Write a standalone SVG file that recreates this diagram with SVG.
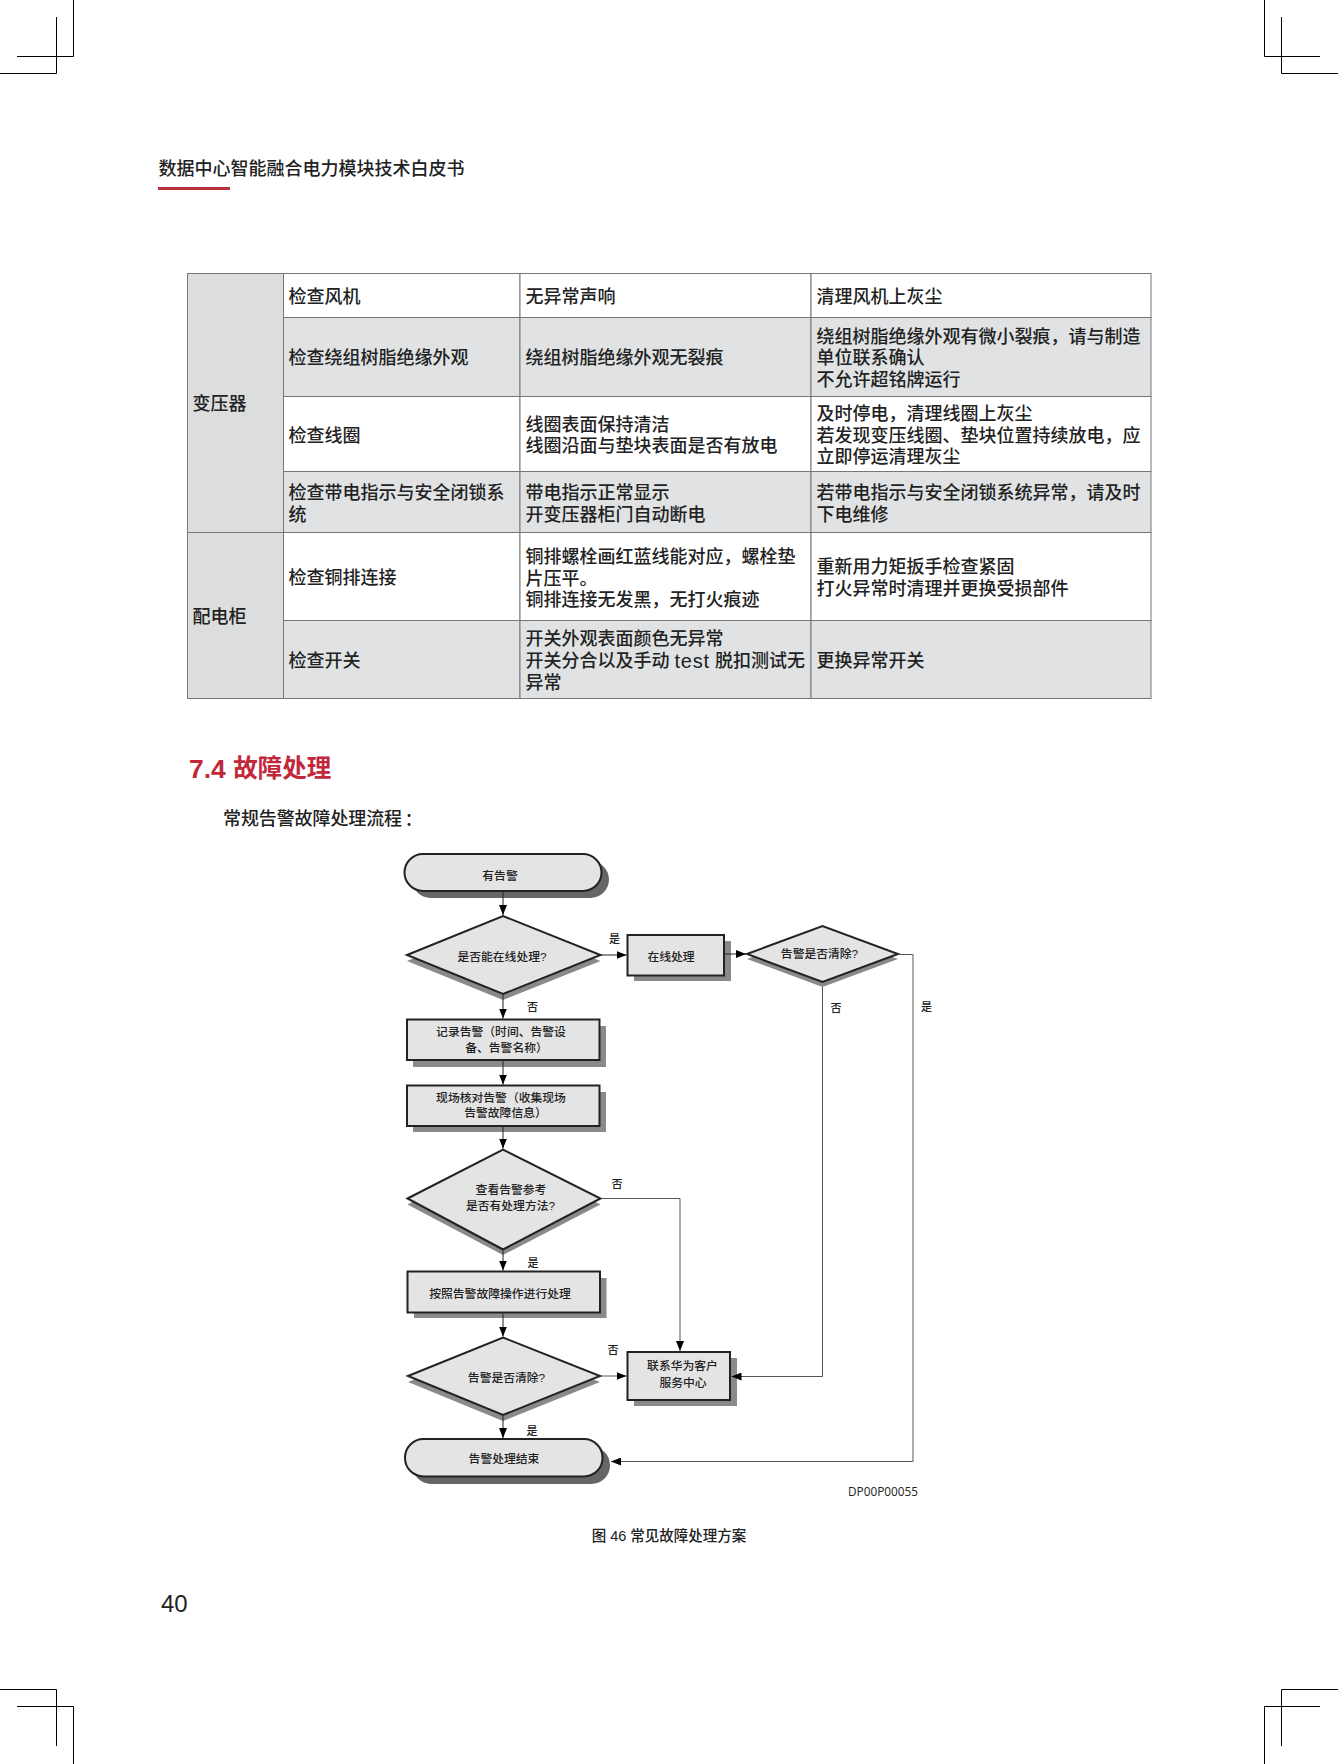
<svg xmlns="http://www.w3.org/2000/svg" width="1338" height="1764" viewBox="0 0 1338 1764">
<style>
text{font-family:"Liberation Sans","Noto Sans CJK SC",sans-serif;dominant-baseline:central;fill:#222;font-weight:500}
.t{font-size:18px;transform:translateY(1px)}
.n{font-size:11.800px;text-anchor:middle}
.l{font-size:11px;text-anchor:middle}
.crop{fill:none;stroke:#000;stroke-width:1}
.cell{stroke:#777;stroke-width:1}
.g{fill:#e0e2e4}.w{fill:#fff}.h{fill:#dcdddd}
.box{fill:#e4e4e4;stroke:#222;stroke-width:2}
.sh{fill:#8a8a8a;stroke:none}
.sh2{fill:#666;stroke:none}
.c{fill:none;stroke:#222;stroke-width:1;marker-end:url(#a)}
.c2{fill:none;stroke:#555;stroke-width:1;marker-end:url(#a)}
</style>
<defs><marker id="a" markerUnits="userSpaceOnUse" markerWidth="11" markerHeight="8" refX="10" refY="4" orient="auto"><path d="M0 0L10 4L0 8z" fill="#000"/></marker></defs>
<rect width="1338" height="1764" fill="#fff"/>
<path class="crop" d="M73.5 0V56.500H17M56.500 17V73.500H0M1264.500 0V56.500H1320M1281.500 17V73.500H1338M0 1689.500H56.500V1746M17 1706.500H73.500V1764M1338 1689.500H1281.500V1746M1320 1706.500H1264.500V1764"/>
<text x="158.500" y="168.500" style="font-size:18px;font-weight:500">数据中心智能融合电力模块技术白皮书</text>
<rect x="158" y="187" width="72" height="3" fill="#b8303a"/>
<g id="table">
<rect class="cell h" x="187.500" y="273.500" width="96" height="259"/>
<rect class="cell h" x="187.500" y="532.500" width="96" height="166"/>
<g>
<rect class="cell w" x="283.500" y="273.500" width="236.500" height="44"/><rect class="cell w" x="520" y="273.500" width="291" height="44"/><rect class="cell w" x="811" y="273.500" width="340" height="44"/>
<rect class="cell g" x="283.500" y="317.500" width="236.500" height="79"/><rect class="cell g" x="520" y="317.500" width="291" height="79"/><rect class="cell g" x="811" y="317.500" width="340" height="79"/>
<rect class="cell w" x="283.500" y="396.500" width="236.500" height="75"/><rect class="cell w" x="520" y="396.500" width="291" height="75"/><rect class="cell w" x="811" y="396.500" width="340" height="75"/>
<rect class="cell g" x="283.500" y="471.500" width="236.500" height="61"/><rect class="cell g" x="520" y="471.500" width="291" height="61"/><rect class="cell g" x="811" y="471.500" width="340" height="61"/>
<rect class="cell w" x="283.500" y="532.500" width="236.500" height="88"/><rect class="cell w" x="520" y="532.500" width="291" height="88"/><rect class="cell w" x="811" y="532.500" width="340" height="88"/>
<rect class="cell g" x="283.500" y="620.500" width="236.500" height="78"/><rect class="cell g" x="520" y="620.500" width="291" height="78"/><rect class="cell g" x="811" y="620.500" width="340" height="78"/>
</g>
<text class="t" x="192.500" y="403">变压器</text>
<text class="t" x="192.500" y="615.500">配电柜</text>
<text class="t" x="288.500" y="296">检查风机</text>
<text class="t" x="525.500" y="296">无异常声响</text>
<text class="t" x="816.500" y="296">清理风机上灰尘</text>
<text class="t" x="288.500" y="357">检查绕组树脂绝缘外观</text>
<text class="t" x="525.500" y="357">绕组树脂绝缘外观无裂痕</text>
<text class="t" x="816.500" y="335.500">绕组树脂绝缘外观有微小裂痕，请与制造</text>
<text class="t" x="816.500" y="357">单位联系确认</text>
<text class="t" x="816.500" y="378.500">不允许超铭牌运行</text>
<text class="t" x="288.500" y="434.500">检查线圈</text>
<text class="t" x="525.500" y="423.500">线圈表面保持清洁</text>
<text class="t" x="525.500" y="445">线圈沿面与垫块表面是否有放电</text>
<text class="t" x="816.500" y="413">及时停电，清理线圈上灰尘</text>
<text class="t" x="816.500" y="434.500">若发现变压线圈、垫块位置持续放电，应</text>
<text class="t" x="816.500" y="456">立即停运清理灰尘</text>
<text class="t" x="288.500" y="492">检查带电指示与安全闭锁系</text>
<text class="t" x="288.500" y="513.500">统</text>
<text class="t" x="525.500" y="492">带电指示正常显示</text>
<text class="t" x="525.500" y="513.500">开变压器柜门自动断电</text>
<text class="t" x="816.500" y="492">若带电指示与安全闭锁系统异常，请及时</text>
<text class="t" x="816.500" y="513.500">下电维修</text>
<text class="t" x="288.500" y="576.500">检查铜排连接</text>
<text class="t" x="525.500" y="556">铜排螺栓画红蓝线能对应，螺栓垫</text>
<text class="t" x="525.500" y="577.500">片压平。</text>
<text class="t" x="525.500" y="599">铜排连接无发黑，无打火痕迹</text>
<text class="t" x="816.500" y="566">重新用力矩扳手检查紧固</text>
<text class="t" x="816.500" y="587.500">打火异常时清理并更换受损部件</text>
<text class="t" x="288.500" y="660">检查开关</text>
<text class="t" x="525.500" y="638">开关外观表面颜色无异常</text>
<text class="t" x="525.500" y="660">开关分合以及手动 <tspan style="font-size:20px;letter-spacing:.8px">test</tspan> 脱扣测试无</text>
<text class="t" x="525.500" y="682">异常</text>
<text class="t" x="816.500" y="660">更换异常开关</text>
</g>
<text x="189" y="768.500" style="font-size:24.500px;font-weight:700;fill:#c2283a"><tspan style="font-size:26.500px">7.4 </tspan>故障处理</text>
<text class="t" x="223" y="818" style="letter-spacing:-.1px">常规告警故障处理流程<tspan style="font-family:'Noto Sans CJK TC',sans-serif" dx="-2">：</tspan></text>
<g id="n1"><rect class="sh2" x="412" y="861" width="197" height="37" rx="18.500"/><rect class="box" x="404.500" y="854" width="197" height="37" rx="18.500"/><text class="n" x="500" y="875.500">有告警</text></g>
<g id="n2"><path class="sh" d="M407 961L503 922L600.500 961L503 1000z"/><path class="box" d="M407 955L503 916L600.500 955L503 994z"/><text class="n" x="502" y="956.500">是否能在线处理?</text></g>
<g id="n3"><rect class="sh" x="634" y="941" width="97" height="40"/><rect class="box" x="627.500" y="935" width="96.500" height="40.500"/><text class="n" x="671" y="956.500">在线处理</text></g>
<g id="n4"><path class="sh" d="M747 959L822.500 931L898 959L822.500 987z"/><path class="box" d="M747 954L822.500 926L898 954L822.500 982z"/><text class="n" x="819.500" y="954">告警是否清除?</text></g>
<g id="n5"><rect class="sh" x="413" y="1026" width="193" height="41"/><rect class="box" x="407" y="1019.500" width="192.500" height="40.500"/><text class="n" x="501" y="1031.500">记录告警（时间、告警设</text><text class="n" x="506.500" y="1047.500">备、告警名称）</text></g>
<g id="n6"><rect class="sh" x="413" y="1092" width="193" height="40"/><rect class="box" x="407" y="1085.500" width="192.500" height="40.500"/><text class="n" x="501" y="1097.500">现场核对告警（收集现场</text><text class="n" x="505.500" y="1112.500">告警故障信息）</text></g>
<g id="n7"><path class="sh" d="M407.500 1204.500L503 1155L600.500 1204.500L503 1255z"/><path class="box" d="M407.500 1198.500L503 1149.500L600.500 1198.500L503 1249.500z"/><text class="n" x="511" y="1190">查看告警参考</text><text class="n" x="510.500" y="1206">是否有处理方法?</text></g>
<g id="n8"><rect class="sh" x="414" y="1278" width="192.500" height="40"/><rect class="box" x="407.500" y="1271.500" width="192.500" height="41"/><text class="n" x="500" y="1293.500">按照告警故障操作进行处理</text></g>
<g id="n9"><path class="sh" d="M408 1382L503 1343L600 1382L503 1421z"/><path class="box" d="M408 1376L503 1337.500L600 1376L503 1415z"/><text class="n" x="506.500" y="1378">告警是否清除?</text></g>
<g id="n10"><rect class="sh" x="634" y="1358" width="103" height="48"/><rect class="box" x="627.500" y="1352" width="102.500" height="48"/><text class="n" x="682.500" y="1366">联系华为客户</text><text class="n" x="683" y="1383">服务中心</text></g>
<g id="n11"><rect class="sh2" x="412.500" y="1446.500" width="197.500" height="37.500" rx="18.500"/><rect class="box" x="405" y="1439" width="197.500" height="37.500" rx="18.500"/><text class="n" x="504" y="1458.500">告警处理结束</text></g>
<g id="connectors">
<path class="c" d="M503 892V915"/>
<path class="c" d="M503 995V1018.500"/>
<path class="c" d="M503 1061V1084.500"/>
<path class="c" d="M503 1127V1148.500"/>
<path class="c" d="M503 1250.500V1270.500"/>
<path class="c" d="M503 1313.500V1336.500"/>
<path class="c" d="M503 1416V1438"/>
<path class="c" d="M601.500 955H626.500"/>
<path class="c" d="M725 954H746"/>
<path class="c2" d="M601 1376H626.500"/>
<path class="c2" d="M601.500 1198.500H680V1351"/>
<path class="c2" d="M822.500 987V1376.500H731.500"/>
<path class="c2" d="M899 954.500H913V1461.500H611"/>
</g>
<g id="labels">
<text class="l" x="614.500" y="938.500">是</text>
<text class="l" x="532.500" y="1006.500">否</text>
<text class="l" x="836" y="1008">否</text>
<text class="l" x="926.500" y="1007">是</text>
<text class="l" x="617" y="1184">否</text>
<text class="l" x="533" y="1262.500">是</text>
<text class="l" x="613" y="1350">否</text>
<text class="l" x="532" y="1430.500">是</text>
<text x="848" y="1491" style="font-size:11.800px;font-family:'Open Sans','Liberation Sans',sans-serif;font-weight:400">DP00P00055</text>
</g>
<text x="669" y="1535.500" style="font-size:14.500px;text-anchor:middle">图 46 常见故障处理方案</text>
<text x="161" y="1603.500" style="font-size:24px;font-family:'Liberation Sans',sans-serif;font-weight:400">40</text>
</svg>
